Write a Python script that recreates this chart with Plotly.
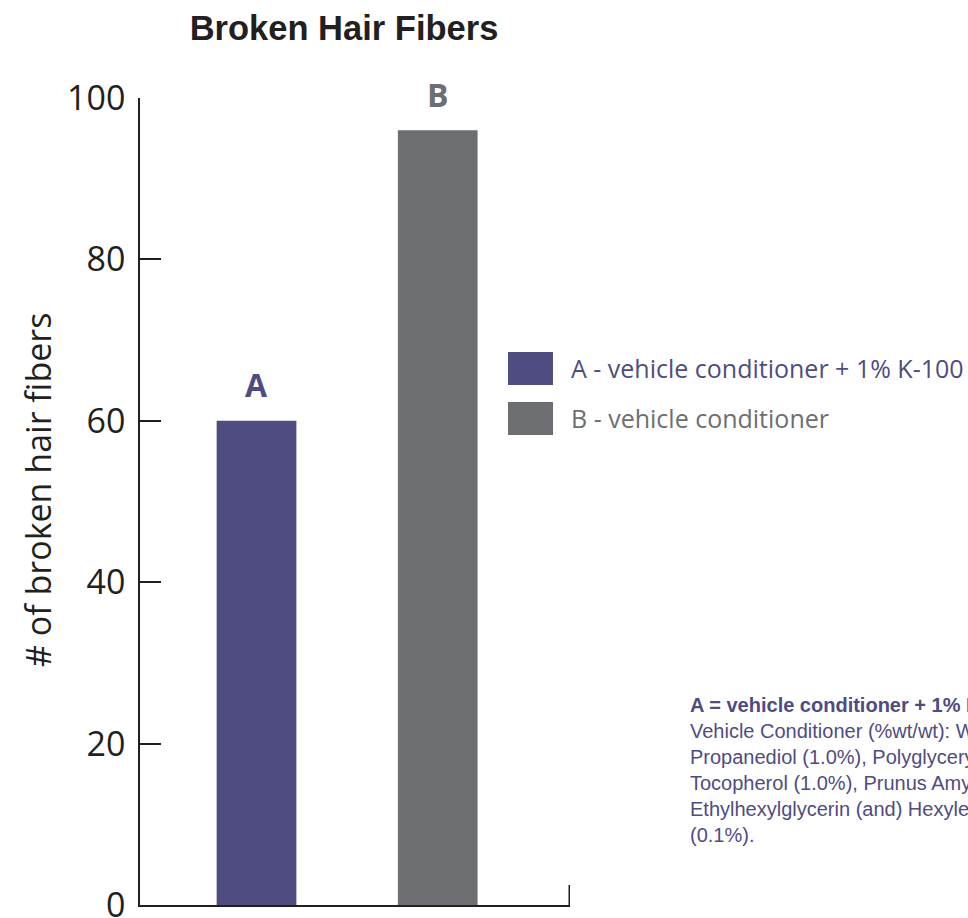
import plotly.graph_objects as go

# ---- data ----
categories = ["A", "B"]
values = [60, 96]
bar_colors = ["#4f4c82", "#6d6e71"]
legend_labels = ["A - vehicle conditioner + 1% K-100", "B - vehicle conditioner"]
y_ticks = [0, 20, 40, 60, 80, 100]
title_text = "Broken Hair Fibers"
y_title = "# of broken hair fibers"
footnote_lines = [
    "<b>A = vehicle conditioner + 1% K-100</b>",
    "Vehicle Conditioner (%wt/wt): Water",
    "Propanediol (1.0%), Polyglyceryl",
    "Tocopherol (1.0%), Prunus Amygdalus",
    "Ethylhexylglycerin (and) Hexylene Glycol",
    "(0.1%).",
]

# ---- layout geometry (pixels) ----
W, H = 968, 918
L, R, T, B = 140, 570, 98, 905
x_range = [-0.643, 1.730]
ink = "#231f20"


def px2x(px):
    return (px - L) / (R - L)


def px2y(py):
    return (B - py) / (B - T)


xpos = list(range(len(categories)))

fig = go.Figure()
fig.add_trace(go.Bar(
    x=xpos, y=values, width=0.44,
    marker=dict(color=bar_colors, line=dict(width=0)),
    showlegend=False, hoverinfo="skip",
))

annotations = []
# labels above bars
for xp, v, c, col in zip(xpos, values, categories, bar_colors):
    annotations.append(dict(
        x=xp, y=v, xref="x", yref="y", text=f"<b>{c}</b>", showarrow=False,
        font=dict(family="Open Sans", size=32, color=col),
        yanchor="middle", yshift=36,
    ))

# y-axis title
annotations.append(dict(
    x=px2x(38), y=px2y(490), xref="paper", yref="paper", text=y_title,
    textangle=-90, showarrow=False, xanchor="center", yanchor="middle",
    font=dict(family="Open Sans", size=34, color=ink),
))

# legend (manual)
shapes = []
leg_top = [352, 402]
for i, (lab, col) in enumerate(zip(legend_labels, bar_colors)):
    y0 = leg_top[i]
    shapes.append(dict(type="rect", xref="paper", yref="paper",
                       x0=px2x(508), x1=px2x(553), y0=px2y(y0 + 33), y1=px2y(y0),
                       fillcolor=col, line=dict(width=0)))
    annotations.append(dict(
        x=px2x(569), y=px2y(y0 + 16), xref="paper", yref="paper", text=lab,
        showarrow=False, xanchor="left", yanchor="middle",
        font=dict(family="Open Sans", size=25, color=col),
    ))

# end tick on the right of the x axis
shapes.append(dict(type="line", xref="paper", yref="paper",
                   x0=1 - 0.75 / (R - L), x1=1 - 0.75 / (R - L),
                   y0=0, y1=20 / (B - T), line=dict(color=ink, width=1.5)))

# footnote
annotations.append(dict(
    x=px2x(688), y=px2y(692), xref="paper", yref="paper",
    text="<br>".join(footnote_lines), showarrow=False, align="left",
    xanchor="left", yanchor="top",
    font=dict(family="Liberation Sans", size=20, color="#4f4c82"),
))

fig.update_layout(
    width=W, height=H,
    margin=dict(l=L, r=W - R, t=T, b=H - B, pad=0, autoexpand=False),
    paper_bgcolor="white", plot_bgcolor="white",
    title=dict(text=f"<b>{title_text}</b>", x=px2x(344), xref="paper", xanchor="center",
               y=1 - 28 / H, yanchor="middle", yref="container",
               font=dict(family="Liberation Sans", size=34.5, color=ink)),
    xaxis=dict(range=x_range, showgrid=False, zeroline=False, showline=True,
               linecolor=ink, linewidth=1.5, showticklabels=False, ticks="",
               fixedrange=True, automargin=False),
    yaxis=dict(range=[0, 100], showgrid=False, zeroline=False, showline=True,
               linecolor=ink, linewidth=1.5, tickmode="array", tickvals=y_ticks,
               ticks="inside", ticklen=21, tickwidth=1.5, tickcolor=ink,
               ticklabelstandoff=6, ticklabeloverflow="allow", automargin=False,
               tickfont=dict(family="Open Sans", size=34, color=ink), fixedrange=True),
    annotations=annotations, shapes=shapes,
    showlegend=False,
)

fig.write_html("out.html", config=dict(displayModeBar=False))

with open("out.html", "r", encoding="utf-8") as f:
    html = f.read()
html = html.replace("<body>", "<body style=\"margin:0;padding:0;overflow:hidden\">", 1)
with open("out.html", "w", encoding="utf-8") as f:
    f.write(html)
